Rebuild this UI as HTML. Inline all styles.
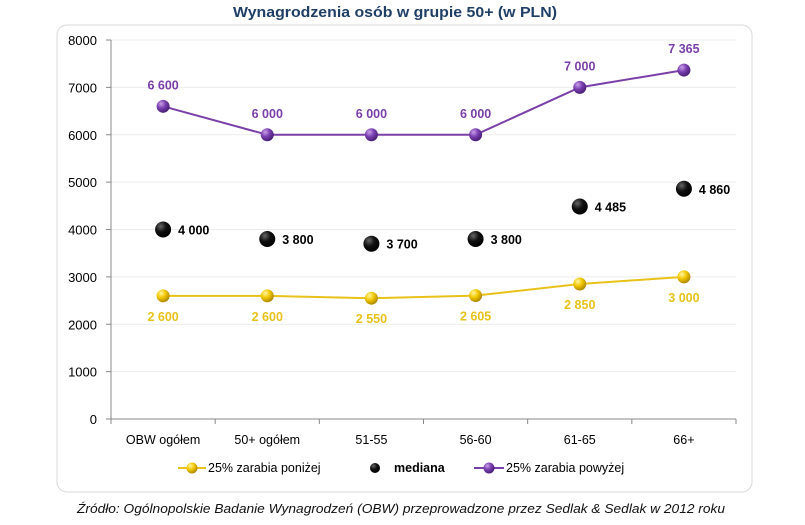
<!DOCTYPE html>
<html><head><meta charset="utf-8"><style>
body{margin:0;background:#fff;width:805px;height:520px;overflow:hidden;font-family:"Liberation Sans",sans-serif}
</style></head><body>
<svg id="c" width="805" height="520" xmlns="http://www.w3.org/2000/svg">
<defs>
<radialGradient id="gy" cx="35%" cy="30%" r="70%"><stop offset="0" stop-color="#fff6a0"/><stop offset="0.5" stop-color="#f2c800"/><stop offset="1" stop-color="#b08a00"/></radialGradient>
<radialGradient id="gp" cx="35%" cy="30%" r="70%"><stop offset="0" stop-color="#c9a0e8"/><stop offset="0.5" stop-color="#7a3fb0"/><stop offset="1" stop-color="#4a1f78"/></radialGradient>
<radialGradient id="gb" cx="35%" cy="30%" r="70%"><stop offset="0" stop-color="#666"/><stop offset="0.5" stop-color="#111"/><stop offset="1" stop-color="#000"/></radialGradient>
</defs>
<text x="233" y="17" textLength="324" lengthAdjust="spacingAndGlyphs" font-size="15" font-weight="bold" fill="#1f3f66">Wynagrodzenia osób w grupie 50+ (w PLN)</text>
<rect x="57" y="25" width="695" height="467" rx="10" fill="#fff" stroke="#d8d8d8"/>
<g id="plot"></g>
<text x="77" y="513" textLength="648" lengthAdjust="spacingAndGlyphs" font-size="13" font-style="italic" fill="#111">Źródło: Ogólnopolskie Badanie Wynagrodzeń (OBW) przeprowadzone przez Sedlak &amp; Sedlak w 2012 roku</text>
</svg>
<script>
const categories=["OBW ogółem","50+ ogółem","51-55","56-60","61-65","66+"];
const low=[2600,2600,2550,2605,2850,3000];
const median=[4000,3800,3700,3800,4485,4860];
const high=[6600,6000,6000,6000,7000,7365];
const lowLabels=["2 600","2 600","2 550","2 605","2 850","3 000"];
const medianLabels=["4 000","3 800","3 700","3 800","4 485","4 860"];
const highLabels=["6 600","6 000","6 000","6 000","7 000","7 365"];
const yTicks=[0,1000,2000,3000,4000,5000,6000,7000,8000];
const NS="http://www.w3.org/2000/svg";
const g=document.getElementById('plot');
const X0=111,X1=736,Y0=419,Y1=40,YMAX=8000;
const bw=(X1-X0)/categories.length;
const xs=i=>X0+bw*(i+0.5);
const ys=v=>Y0-(v/YMAX)*(Y0-Y1);
function el(t,a,txt){const e=document.createElementNS(NS,t);for(const k in a)e.setAttribute(k,a[k]);if(txt!==undefined)e.textContent=txt;g.appendChild(e);return e;}
yTicks.forEach(v=>{
 if(v>0){const l=el('line',{x1:X0,x2:X1,y1:ys(v),y2:ys(v),stroke:'#ececec'});
 
 }
 const tk=el('line',{x1:X0-5,x2:X0,y1:ys(v),y2:ys(v),stroke:'#888'});
 
 
 const t=el('text',{x:X0-14,y:ys(v)+5,'text-anchor':'end','font-size':13,fill:'#000'},v);
 
 
});
const ya=el('line',{x1:X0,x2:X0,y1:Y1,y2:Y0,stroke:'#888'});


const xa=el('line',{x1:X0,x2:X1,y1:Y0,y2:Y0,stroke:'#888'});


for(let i=0;i<=categories.length;i++){const t=el('line',{x1:X0+bw*i,x2:X0+bw*i,y1:Y0,y2:Y0+5,stroke:'#888'});
 
 }
categories.forEach((c,i)=>{const t=el('text',{x:xs(i),y:Y0+25,'text-anchor':'middle','font-size':12.5,fill:'#000'},c);
 
 });
function series(vals,labels,color,grad,name,dy){
 const p=el('polyline',{points:vals.map((v,i)=>xs(i)+','+ys(v)).join(' '),fill:'none',stroke:color,'stroke-width':2});
 
 
 vals.forEach((v,i)=>{
  const c=el('circle',{cx:xs(i),cy:ys(v),r:6.5,fill:'url(#'+grad+')'});
  
  
  const t=el('text',{x:xs(i),y:ys(v)+dy,'text-anchor':'middle','font-size':12.5,'font-weight':'bold',fill:color},labels[i]);
  
  
 });
}
series(low,lowLabels,'#e8c21a','gy','low-quartile',25);
series(high,highLabels,'#7a3fa8','gp','high-quartile',-17);
median.forEach((v,i)=>{
 const c=el('circle',{cx:xs(i),cy:ys(v),r:8,fill:'url(#gb)'});
 
 
 const t=el('text',{x:xs(i)+15,y:ys(v)+5,'font-size':12.5,'font-weight':'bold',fill:'#000'},medianLabels[i]);
 
 
});
const LY=468;
const l1=el('line',{x1:178,x2:206,y1:LY,y2:LY,stroke:'#e8c21a','stroke-width':2});


const c1=el('circle',{cx:192,cy:LY,r:5.5,fill:'url(#gy)'});


const t1=el('text',{x:208,y:LY+4,'font-size':12.5,fill:'#000'},'25% zarabia poniżej');


const c2=el('circle',{cx:375,cy:LY,r:5,fill:'url(#gb)'});


const t2=el('text',{x:394,y:LY+4,'font-size':12.5,'font-weight':'bold',fill:'#000'},'mediana');


const l3=el('line',{x1:474,x2:504,y1:LY,y2:LY,stroke:'#7a3fa8','stroke-width':2});


const c3=el('circle',{cx:489,cy:LY,r:5.5,fill:'url(#gp)'});


const t3=el('text',{x:506,y:LY+4,'font-size':12.5,fill:'#000'},'25% zarabia powyżej');


</script>
</body></html>
